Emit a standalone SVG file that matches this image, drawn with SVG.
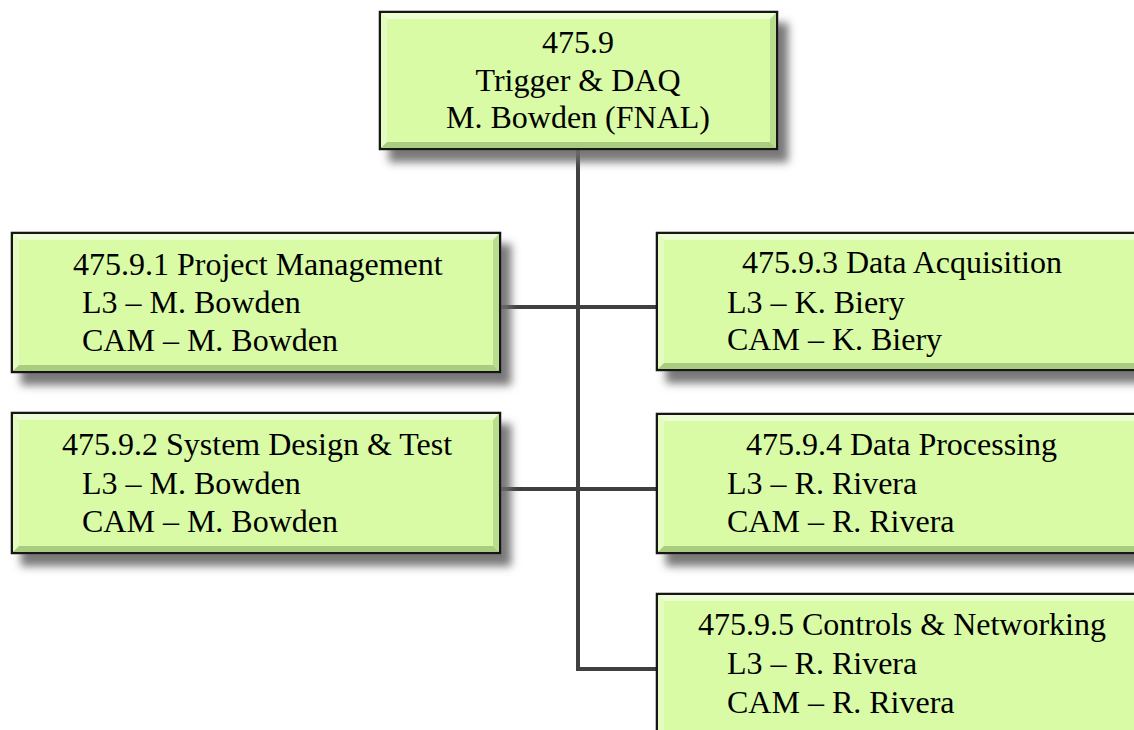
<svg xmlns="http://www.w3.org/2000/svg" width="1134" height="730" viewBox="0 0 1134 730">
<defs>
<filter id="sh" x="-10%" y="-20%" width="130%" height="150%">
<feGaussianBlur in="SourceAlpha" stdDeviation="4"/>
<feOffset dx="10" dy="12" result="b"/>
<feFlood flood-color="#6a6a6a" flood-opacity="0.9"/>
<feComposite in2="b" operator="in" result="s"/>
<feMerge><feMergeNode in="s"/><feMergeNode in="SourceGraphic"/></feMerge>
</filter>
</defs>
<style>
.box{fill:#d9fba6;stroke:#151515;stroke-width:2.5}
.lt{fill:#ecffd2}
.ll{fill:#e4fcc2}
.dr{fill:#b9dc8e}
.db{fill:#a9cc80}
.t{font-family:"Liberation Serif",serif;font-size:32px;fill:#000}
.c{text-anchor:middle}
.conn{stroke:#404040;stroke-width:4;fill:none}
</style>
<rect width="1134" height="730" fill="#ffffff"/>
<g id="connectors">
<path class="conn" d="M578,149 V669 H657"/>
<path class="conn" d="M500,307 H657"/>
<path class="conn" d="M500,489 H657"/>
</g>
<g id="n0">
<rect class="box" x="380" y="12" width="397" height="137" filter="url(#sh)"/>
<polygon class="lt" points="381,13 776,13 770,19 387,19"/>
<polygon class="ll" points="381,13 387,19 387,142 381,148"/>
<polygon class="dr" points="776,13 776,148 770,142 770,19"/>
<polygon class="db" points="381,148 776,148 770,142 387,142"/>
<text class="t c" x="578" y="53">475.9</text>
<text class="t c" x="578" y="91">Trigger &amp; DAQ</text>
<text class="t c" x="578" y="128">M. Bowden (FNAL)</text>
</g>
<g id="n1">
<rect class="box" x="12" y="233" width="488" height="139" filter="url(#sh)"/>
<polygon class="lt" points="13,234 499,234 493,240 19,240"/>
<polygon class="ll" points="13,234 19,240 19,365 13,371"/>
<polygon class="dr" points="499,234 499,371 493,365 493,240"/>
<polygon class="db" points="13,371 499,371 493,365 19,365"/>
<text class="t" x="73" y="275">475.9.1 Project Management</text>
<text class="t" x="82" y="313">L3 – M. Bowden</text>
<text class="t" x="82" y="351">CAM – M. Bowden</text>
</g>
<g id="n2">
<rect class="box" x="12" y="413" width="488" height="140" filter="url(#sh)"/>
<polygon class="lt" points="13,414 499,414 493,420 19,420"/>
<polygon class="ll" points="13,414 19,420 19,546 13,552"/>
<polygon class="dr" points="499,414 499,552 493,546 493,420"/>
<polygon class="db" points="13,552 499,552 493,546 19,546"/>
<text class="t" x="62" y="455">475.9.2 System Design &amp; Test</text>
<text class="t" x="82" y="494">L3 – M. Bowden</text>
<text class="t" x="82" y="532">CAM – M. Bowden</text>
</g>
<g id="n3">
<rect class="box" x="657" y="233" width="493" height="137" filter="url(#sh)"/>
<polygon class="lt" points="658,234 1149,234 1143,240 664,240"/>
<polygon class="ll" points="658,234 664,240 664,363 658,369"/>
<polygon class="db" points="658,369 1149,369 1143,363 664,363"/>
<text class="t" x="742" y="273">475.9.3 Data Acquisition</text>
<text class="t" x="727" y="313">L3 – K. Biery</text>
<text class="t" x="727" y="350">CAM – K. Biery</text>
</g>
<g id="n4">
<rect class="box" x="657" y="414" width="493" height="139" filter="url(#sh)"/>
<polygon class="lt" points="658,415 1149,415 1143,421 664,421"/>
<polygon class="ll" points="658,415 664,421 664,546 658,552"/>
<polygon class="db" points="658,552 1149,552 1143,546 664,546"/>
<text class="t" x="746" y="455">475.9.4 Data Processing</text>
<text class="t" x="727" y="494">L3 – R. Rivera</text>
<text class="t" x="727" y="532">CAM – R. Rivera</text>
</g>
<g id="n5">
<rect class="box" x="657" y="594" width="493" height="150" filter="url(#sh)"/>
<polygon class="lt" points="658,595 1149,595 1143,601 664,601"/>
<polygon class="ll" points="658,595 664,601 664,737 658,743"/>
<text class="t" x="698" y="635">475.9.5 Controls &amp; Networking</text>
<text class="t" x="727" y="674">L3 – R. Rivera</text>
<text class="t" x="727" y="713">CAM – R. Rivera</text>
</g>
</svg>
